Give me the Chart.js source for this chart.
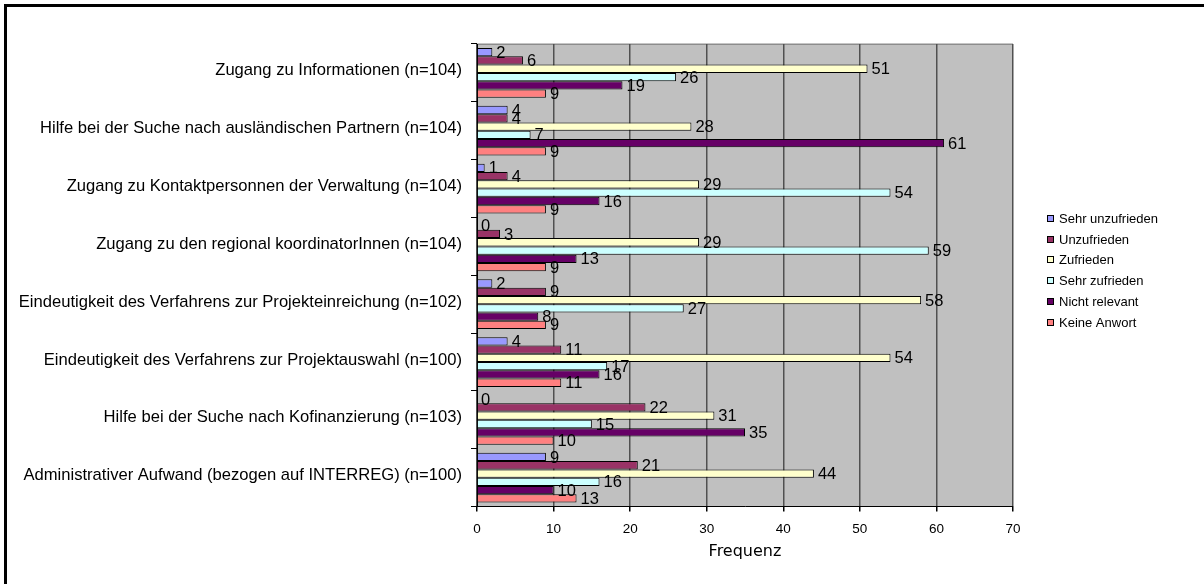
<!DOCTYPE html>
<html>
<head>
<meta charset="utf-8">
<script src="https://cdn.jsdelivr.net/npm/chart.js"></script>
<style>
    html, body { margin: 0; padding: 0; background: #fff; }
    #bar-chart { display: block; }
</style>
</head>
<body>
<canvas id="bar-chart" width="1204" height="584"></canvas>
<script>
    // Kategorien (von oben nach unten)
    var categories = [
        'Zugang zu Informationen (n=104)',
        'Hilfe bei der Suche nach ausländischen Partnern (n=104)',
        'Zugang zu Kontaktpersonnen der Verwaltung (n=104)',
        'Zugang zu den regional koordinatorInnen (n=104)',
        'Eindeutigkeit des Verfahrens zur Projekteinreichung (n=102)',
        'Eindeutigkeit des Verfahrens zur Projektauswahl (n=100)',
        'Hilfe bei der Suche nach Kofinanzierung (n=103)',
        'Administrativer Aufwand (bezogen auf INTERREG) (n=100)'
    ];

    var seriesNames = ['Sehr unzufrieden', 'Unzufrieden', 'Zufrieden', 'Sehr zufrieden', 'Nicht relevant', 'Keine Anwort'];
    var seriesColors = ['#9999FF', '#993366', '#FFFFCC', '#CCFFFF', '#660066', '#FF8080'];

    // Häufigkeiten je Antwort
    var sehrUnzufrieden = [2, 4, 1, 0, 2, 4, 0, 9];
    var unzufrieden     = [6, 4, 4, 3, 9, 11, 22, 21];
    var zufrieden       = [51, 28, 29, 29, 58, 54, 31, 44];
    var sehrZufrieden   = [26, 7, 54, 59, 27, 17, 15, 16];
    var nichtRelevant   = [19, 61, 16, 13, 8, 16, 35, 10];
    var keineAntwort    = [9, 9, 9, 9, 9, 11, 10, 13];

    var xTicks = [0, 10, 20, 30, 40, 50, 60, 70];

    var seriesValues = [sehrUnzufrieden, unzufrieden, zufrieden, sehrZufrieden, nichtRelevant, keineAntwort];

    var labelFont = 'Arial, "Liberation Sans", sans-serif';

    var datasets = seriesNames.map(function (name, i) {
        return {
            label: name,
            data: seriesValues[i],
            backgroundColor: seriesColors[i],
            borderColor: '#000000',
            borderWidth: 1,
            categoryPercentage: 0.86,
            barPercentage: 1.0
        };
    });

    // grauer Hintergrund der Zeichenfläche + Rahmen
    var plotBackground = {
        id: 'plotBackground',
        beforeDraw: function (chart) {
            var c = chart.ctx;
            var a = chart.chartArea;
            c.save();
            c.fillStyle = '#ffffff';
            c.fillRect(0, 0, chart.width, chart.height);
            c.lineWidth = 3;
            c.strokeStyle = '#000000';
            c.strokeRect(5.5, 5.5, chart.width + 10, chart.height + 10);
            c.fillStyle = '#C0C0C0';
            c.fillRect(a.left, a.top, a.right - a.left, a.bottom - a.top);
            c.lineWidth = 1.5;
            c.strokeStyle = '#8c8c8c';
            c.beginPath();
            c.moveTo(a.left, a.top + 0.25);
            c.lineTo(a.right, a.top + 0.25);
            c.stroke();
            c.restore();
        }
    };

    // Werte rechts neben den Balken
    var valueLabels = {
        id: 'valueLabels',
        afterDatasetsDraw: function (chart) {
            var c = chart.ctx;
            c.save();
            c.font = '16.5px ' + labelFont;
            c.fillStyle = '#000000';
            c.textAlign = 'left';
            c.textBaseline = 'middle';
            chart.data.datasets.forEach(function (ds, i) {
                var meta = chart.getDatasetMeta(i);
                meta.data.forEach(function (bar, j) {
                    c.fillText(String(ds.data[j]), bar.x + 4, bar.y + 1);
                });
            });
            c.restore();
        }
    };

    // Legende rechts
    var sideLegend = {
        id: 'sideLegend',
        afterDraw: function (chart) {
            var c = chart.ctx;
            var x = 1047, y = 218, step = 20.7;
            c.save();
            c.font = '13px ' + labelFont;
            c.textAlign = 'left';
            c.textBaseline = 'middle';
            chart.data.datasets.forEach(function (ds, i) {
                var yy = Math.round(y + i * step);
                c.fillStyle = ds.backgroundColor;
                c.fillRect(x, yy - 3, 7, 7);
                c.strokeStyle = '#000000';
                c.lineWidth = 1;
                c.strokeRect(x + 0.5, yy - 2.5, 6, 6);
                c.fillStyle = '#000000';
                c.fillText(ds.label, x + 12, yy + 1);
            });
            c.restore();
        }
    };

    var ctx = document.getElementById('bar-chart').getContext('2d');
    var chart = new Chart(ctx, {
        type: 'bar',
        data: {
            labels: categories,
            datasets: datasets
        },
        plugins: [plotBackground, valueLabels, sideLegend],
        options: {
            indexAxis: 'y',
            responsive: false,
            animation: false,
            devicePixelRatio: 1,
            layout: {
                padding: { top: 44, right: 191, bottom: 20, left: 0 }
            },
            plugins: {
                legend: { display: false },
                tooltip: { enabled: false }
            },
            scales: {
                x: {
                    min: 0,
                    max: 70,
                    afterBuildTicks: function (scale) {
                        scale.ticks = xTicks.map(function (v) { return { value: v }; });
                    },
                    grid: {
                        color: '#505050',
                        lineWidth: 1.5,
                        tickLength: 5,
                        tickColor: '#000000'
                    },
                    border: { color: '#000000', width: 1 },
                    ticks: {
                        color: '#000000',
                        padding: 10,
                        maxRotation: 0,
                        font: { family: labelFont, size: 13.5 }
                    },
                    title: {
                        display: true,
                        text: 'Frequenz',
                        color: '#000000',
                        padding: { top: -6, bottom: 3 },
                        font: { family: '"DejaVu Sans", Verdana, sans-serif', size: 16 }
                    }
                },
                y: {
                    afterFit: function (scale) {
                        scale.width = 477;
                    },
                    grid: {
                        offset: true,
                        drawOnChartArea: false,
                        tickLength: 6,
                        color: '#000000'
                    },
                    border: { color: '#000000', width: 1 },
                    ticks: {
                        color: '#000000',
                        padding: 9,
                        labelOffset: -2,
                        autoSkip: false,
                        font: { family: labelFont, size: 16.6 }
                    }
                }
            }
        }
    });
</script>
</body>
</html>
